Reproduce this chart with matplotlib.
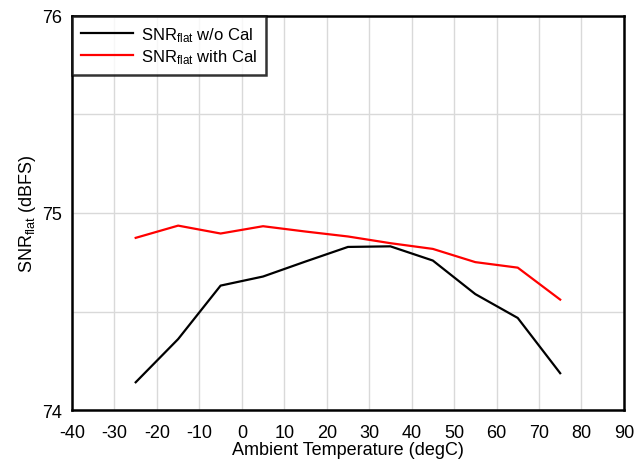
import matplotlib
matplotlib.use("Agg")
import matplotlib.pyplot as plt
from matplotlib.ticker import MultipleLocator

plt.rcParams['font.family'] = ['Liberation Sans', 'DejaVu Sans']
plt.rcParams['mathtext.fontset'] = 'custom'
plt.rcParams['mathtext.rm'] = 'Liberation Sans'
plt.rcParams['mathtext.it'] = 'Liberation Sans:italic'
plt.rcParams['axes.unicode_minus'] = False

temps = [-25, -15, -5, 5, 15, 25, 35, 45, 55, 65, 75]
snr_no_cal = [74.142, 74.361, 74.632, 74.678, 74.754, 74.828, 74.831, 74.759, 74.589, 74.468, 74.188]
snr_cal = [74.874, 74.936, 74.896, 74.933, 74.906, 74.881, 74.847, 74.818, 74.751, 74.723, 74.561]
labels = [r'SNR$_{\mathrm{flat}}$ w/o Cal', r'SNR$_{\mathrm{flat}}$ with Cal']

fig = plt.figure(figsize=(6.34, 4.64), dpi=100)
ax = fig.add_axes([0.1136, 0.1136, 0.8704, 0.8504])

ax.plot(temps, snr_no_cal, color='black', lw=1.6, label=labels[0])
ax.plot(temps, snr_cal, color='#ff0000', lw=1.6, label=labels[1])

ax.set_xlim(-40, 90)
ax.set_ylim(74, 76)
ax.xaxis.set_major_locator(MultipleLocator(10))
ax.yaxis.set_major_locator(MultipleLocator(1))
ax.yaxis.set_minor_locator(MultipleLocator(0.5))
ax.grid(True, which='both', color='#d9d9d9', lw=1)
ax.set_axisbelow(True)
ax.tick_params(which='both', length=0, labelsize=13)
ax.tick_params(axis='x', pad=10)
ax.tick_params(axis='y', pad=7)
for s in ax.spines.values():
    s.set_linewidth(1.8)

ax.set_xlabel('Ambient Temperature (degC)', fontsize=13, labelpad=0)
ax.set_ylabel(r'SNR$_{\mathrm{flat}}$ (dBFS)', fontsize=13, labelpad=3)

leg = ax.legend(loc='upper left', fontsize=12, frameon=True, fancybox=False,
                borderaxespad=0, handlelength=3.1, borderpad=0.55, labelspacing=0.2,
                handletextpad=0.5, handleheight=0.7)
leg.get_frame().set_edgecolor('black')
leg.get_frame().set_linewidth(1.8)

fig.savefig('out.png', dpi=100)
